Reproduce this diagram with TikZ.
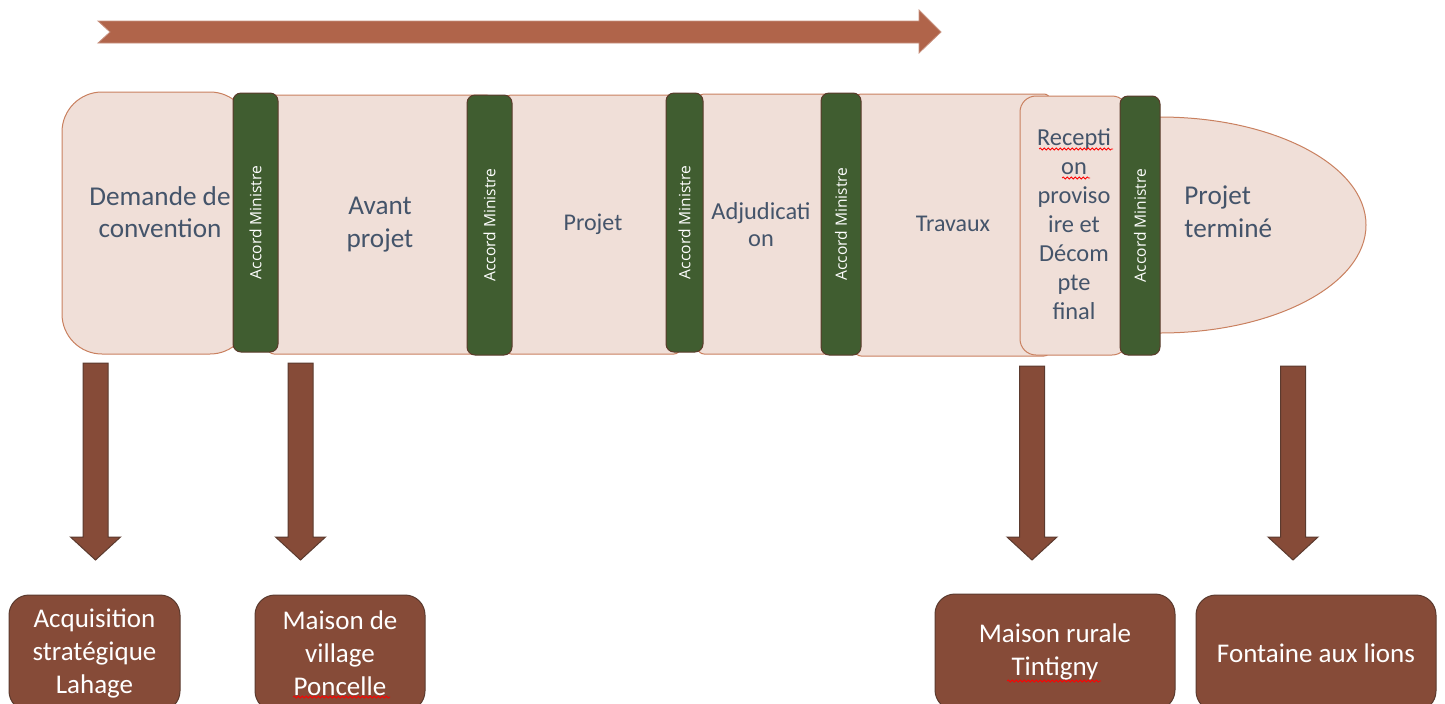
\documentclass[tikz,border=0pt]{standalone}
\usepackage{fontspec}
\setmainfont{Carlito}
\newfontfamily\accordfont{Open Sans}
\usetikzlibrary{positioning,decorations.pathmorphing}

\definecolor{bandfill}{HTML}{F0DFD8}
\definecolor{bandline}{HTML}{C9805F}
\definecolor{accordgreen}{HTML}{405D30}
\definecolor{accordline}{HTML}{5A3A2A}
\definecolor{toparrow}{HTML}{B0644A}
\definecolor{brownbox}{HTML}{864B38}
\definecolor{arrowline}{HTML}{5B3A2E}
\definecolor{phasetext}{HTML}{44546A}

\begin{document}
\begin{tikzpicture}[x=0.5pt,y=-0.5pt,
        phase/.style={draw=bandline,fill=bandfill,line width=0.5pt,rounded corners=3pt,inner sep=0pt},
        accord/.style={draw=accordline,fill=accordgreen,line width=0.5pt,rounded corners=4pt,
            inner sep=0pt,rotate=90,text=white,font=\accordfont\fontsize{7.8}{9}\selectfont},
        phase text/.style={text=phasetext,align=center,inner sep=0pt},
        big text/.style={phase text,font=\fontsize{13.6}{16.3}\selectfont},
        mid text/.style={phase text,font=\fontsize{12}{14.5}\selectfont},
        result/.style={draw=arrowline,fill=brownbox,line width=0.5pt,rounded corners=10pt,
            text=white,align=center,minimum height=58pt,inner sep=0pt,
            font=\fontsize{13.5}{16.5}\selectfont},
        spell/.style={draw=red,line width=0.4pt,decorate,
            decoration={snake,amplitude=0.5pt,segment length=2pt}}]

    \useasboundingbox (0,0) rectangle (1445,703);
    \clip (0,0) rectangle (1445,703);

    % timeline arrow
    \filldraw[fill=toparrow,draw=toparrow!70!white,line width=0.4pt]
        (98,21) -- (919,21) -- (919,10) -- (941,32) -- (919,53) -- (919,43)
        -- (98,43) -- (110,32) -- cycle;

    % phases
    \draw[phase] (1160,225) ellipse [x radius=103pt,y radius=54pt];
    \node[phase,rounded corners=20pt,minimum width=94pt,minimum height=131pt] (demande) at (156,223) {};
    \node[phase,minimum width=112pt,minimum height=129.5pt] (avant) at (380,224.5) {};
    \node[phase,minimum width=87.5pt,minimum height=129.5pt] (projet) at (592.5,224.5) {};
    \node[phase,minimum width=66pt,minimum height=130pt] (adjud) at (764,224) {};
    \node[phase,minimum width=97.5pt,minimum height=131pt] (travaux) at (952.5,225) {};
    \node[phase,rounded corners=8pt,minimum width=54pt,minimum height=129.5pt] (recep) at (1074,225.5) {};

    \node[big text] (demande-txt) at (160,212) {Demande de\\convention};
    \node[big text] (avant-txt) at (380,224.5) {Avant\\projet};
    \node[mid text] (projet-txt) at (593,224) {Projet};
    \node[mid text,font=\fontsize{12.2}{13.5}\selectfont] (adjud-txt) at (761,224.5) {Adjudicati\\on};
    \node[mid text] (travaux-txt) at (953,224) {Travaux};
    \node[mid text,font=\fontsize{12.2}{14.5}\selectfont] (recep-txt) at (1074,224) {Recepti\\on\\proviso\\ire et\\Décom\\pte\\final};
    \node[big text,align=left,anchor=west] (termine-txt) at (1184,211.5) {Projet\\terminé};

    % ministerial agreements
    \node[accord,minimum width=129.5pt,minimum height=22.5pt] (accord1) at (255.5,222.5) {Accord Ministre};
    \node[accord,minimum width=130pt,minimum height=22.5pt] (accord2) at (489.5,225) {Accord Ministre};
    \node[accord,minimum width=129.5pt,minimum height=18.5pt] (accord3) at (684.5,222.5) {Accord Ministre};
    \node[accord,minimum width=131pt,minimum height=20pt] (accord4) at (841,224) {Accord Ministre};
    \node[accord,minimum width=129.5pt,minimum height=20pt] (accord5) at (1140,225.5) {Accord Ministre};

    % down arrows
    \foreach \cx/\ty in {95.5/363,300.5/363,1032/366,1293/366}
        \filldraw[fill=brownbox,draw=arrowline,line width=0.5pt]
            (\cx-12.5,\ty) -- (\cx+12.5,\ty) -- (\cx+12.5,537) -- (\cx+25,537)
            -- (\cx,560) -- (\cx-25,537) -- (\cx-12.5,537) -- cycle;

    % projects
    \node[result,minimum width=85.5pt] (lahage) at (94.5,653) {Acquisition\\stratégique\\Lahage};
    \node[result,minimum width=85pt] (poncelle) at (340,653) {Maison de\\village\\Poncelle};
    \node[result,minimum width=120pt] (tintigny) at (1055,652) {Maison rurale\\Tintigny};
    \node[result,minimum width=120pt] (lions) at (1316,653) {Fontaine aux lions};

    \draw[spell] (1039,149) -- (1113,149);
    \draw[spell] (1062,178) -- (1090,178);
    \draw[spell] (293,697) -- (390,697);
    \draw[spell] (1007,681) -- (1101,681);
\end{tikzpicture}
\end{document}
